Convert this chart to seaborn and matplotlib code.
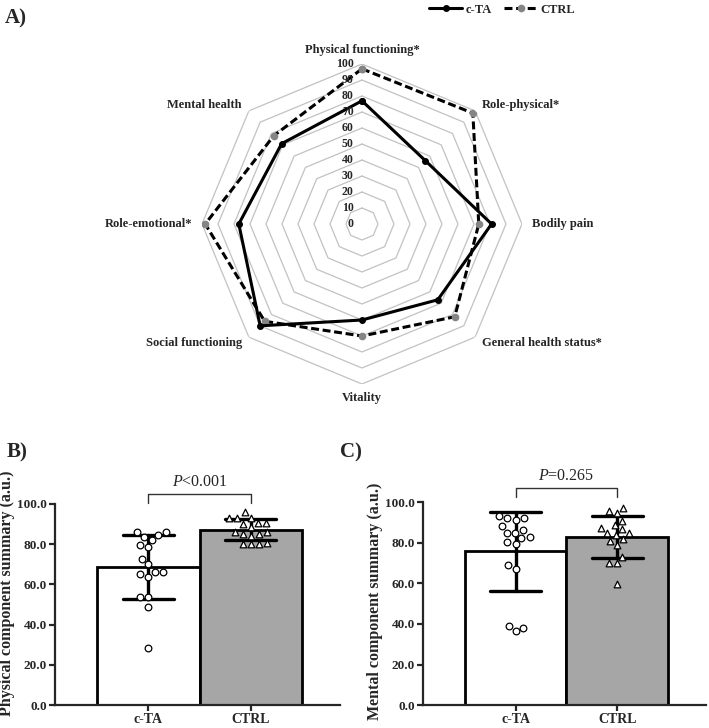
import numpy as np
import pandas as pd
import matplotlib
matplotlib.use("Agg")
import matplotlib.pyplot as plt
import seaborn as sns
from matplotlib.ticker import FormatStrFormatter

# ---- data ----
domains = ["Physical functioning*", "Role-physical*", "Bodily pain", "General health status*",
           "Vitality", "Social functioning", "Role-emotional*", "Mental health"]
radar_cta = [77, 56, 81, 67, 60, 90, 77, 71]
radar_ctrl = [97, 98, 73, 82, 70, 86, 98, 78]
ring_levels = [0, 10, 20, 30, 40, 50, 60, 70, 80, 90, 100]

groups = ["c-TA", "CTRL"]
pcs_cta = [86.1, 86.1, 83.6, 84.7, 79.8, 78.7, 82.3, 72.4, 70.0, 66.2, 66.2, 65.0, 63.7,
           53.9, 53.9, 48.6, 28.6]
pcs_ctrl = [95.9, 92.9, 90.7, 90.1, 90.7, 92.9, 92.9, 88.8, 85.9, 84.2, 85.0, 85.0, 85.9,
            80.0, 80.0, 80.0, 80.8]
mcs_cta = [92.2, 91.4, 92.2, 93.3, 88.1, 86.5, 84.9, 84.9, 82.4, 82.7, 79.6, 80.3, 68.9,
           67.3, 39.2, 36.7, 38.0]
mcs_ctrl = [97.4, 95.8, 94.7, 90.9, 88.9, 86.8, 87.3, 84.7, 84.7, 81.9, 81.1, 79.1, 72.9,
            69.8, 69.8, 59.5, 84.0]

sns.set_style("ticks")
plt.rcParams["font.family"] = ["Liberation Serif", "DejaVu Serif"]
plt.rcParams["mathtext.fontset"] = "custom"
plt.rcParams["mathtext.it"] = "Liberation Serif:italic"
plt.rcParams["mathtext.rm"] = "Liberation Serif"

fig = plt.figure(figsize=(7.09, 7.28), dpi=100)

# ---- A) radar ----
axr = fig.add_axes([0.2849, 0.4725, 0.4513, 0.4396], polar=True)
axr.set_theta_zero_location("N")
axr.set_theta_direction(-1)
theta = np.linspace(0, 2 * np.pi, len(domains), endpoint=False)
closed = np.append(theta, theta[0])
for r in ring_levels[1:]:
    axr.plot(closed, [r] * len(closed), color="#c2c2c2", lw=0.9, zorder=1)
l1, = axr.plot(closed, radar_cta + radar_cta[:1], color="black", lw=2.2, marker="o",
               markersize=4, zorder=3)
l2, = axr.plot(closed, radar_ctrl + radar_ctrl[:1], color="black", lw=2.2, ls=(0, (2.6, 1.2)),
               marker="o", markersize=4.5, mfc="#858585", mec="#858585", zorder=2)
axr.set_ylim(0, 100)
axr.set_xticks([])
axr.set_yticks([])
axr.grid(False)
axr.spines["polar"].set_visible(False)
axr.patch.set_alpha(0)
for t, name in zip(theta, domains):
    s, c = np.sin(t), np.cos(t)
    ha = "left" if s > 0.1 else ("right" if s < -0.1 else "center")
    va = "bottom" if c > 0.9 else ("top" if c < -0.9 else "center")
    axr.annotate(name, xy=(t, 100), xytext=(7 * s, 6 * c), textcoords="offset points",
                 ha=ha, va=va, fontsize=9, fontweight="bold")
for v in ring_levels:
    axr.annotate(str(v), xy=(0, v), xytext=(-6, 0), textcoords="offset points",
                 ha="right", va="center", fontsize=8.5, fontweight="bold")

fig.legend([l1, l2], groups, loc="upper right", bbox_to_anchor=(0.822, 1.005), ncol=2,
           frameon=False, prop={"weight": "bold", "size": 9}, handlelength=2.6,
           handletextpad=0.3, columnspacing=1.0, borderaxespad=0.2)


# ---- B) and C) bar panels ----
def summary_panel(ax, cta, ctrl, ylabel, ptext, y_line, y_leg):
    df = pd.DataFrame({"group": ["c-TA"] * len(cta) + ["CTRL"] * len(ctrl),
                       "score": cta + ctrl})
    sns.barplot(data=df, x="group", y="score", hue="group", order=groups, hue_order=groups,
                palette=["white", "#a6a6a6"], errorbar="sd", capsize=0.5, width=1.0,
                edgecolor="black", linewidth=2, legend=False,
                err_kws={"color": "black", "linewidth": 2.4}, ax=ax)
    for g, m in zip(groups, ["o", "^"]):
        sns.swarmplot(data=df[df.group == g], x="group", y="score", order=groups, marker=m,
                      color="white", edgecolor="black", linewidth=0.9, size=4.8, zorder=4, ax=ax)
    ax.set_xlim(-0.91, 1.87)
    ax.set_ylim(0, 100)
    ax.set_yticks([0, 20, 40, 60, 80, 100])
    ax.yaxis.set_major_formatter(FormatStrFormatter("%.1f"))
    ax.spines["left"].set_bounds(0, 100)
    for sp in ["left", "bottom"]:
        ax.spines[sp].set_linewidth(1.6)
    sns.despine(ax=ax)
    ax.tick_params(axis="both", width=1.6, length=4, pad=2, direction="out")
    for lab in ax.get_yticklabels():
        lab.set_fontweight("bold")
        lab.set_fontsize(9.5)
    for lab in ax.get_xticklabels():
        lab.set_fontweight("bold")
        lab.set_fontsize(10)
    ax.set_xlabel("")
    ax.set_ylabel(ylabel, fontsize=11.5, fontweight="bold")
    ax.plot([0, 0, 1, 1], [y_leg, y_line, y_line, y_leg], color="#333333", lw=1,
            clip_on=False)
    ax.text(0.5, y_line + 2, ptext, ha="center", va="bottom", fontsize=11.5, clip_on=False)


axb = fig.add_axes([0.0776, 0.0315, 0.402, 0.2762])
summary_panel(axb, pcs_cta, pcs_ctrl, "Physical component summary (a.u.)",
              r"$P$<0.001", 104.9, 100.5)
axb.yaxis.set_label_coords(-0.14, 0.555)

axc = fig.add_axes([0.5966, 0.0315, 0.399, 0.2786])
summary_panel(axc, mcs_cta, mcs_ctrl, "Mental component summary (a.u.)",
              r"$P$=0.265", 106.9, 102.8)
axc.yaxis.set_label_coords(-0.14, 0.51)

fig.text(0.007, 0.975, "A)", fontsize=15, fontweight="bold", va="center")
fig.text(0.01, 0.378, "B)", fontsize=15, fontweight="bold", va="center")
fig.text(0.48, 0.378, "C)", fontsize=15, fontweight="bold", va="center")

fig.savefig("out.png", dpi=100)
